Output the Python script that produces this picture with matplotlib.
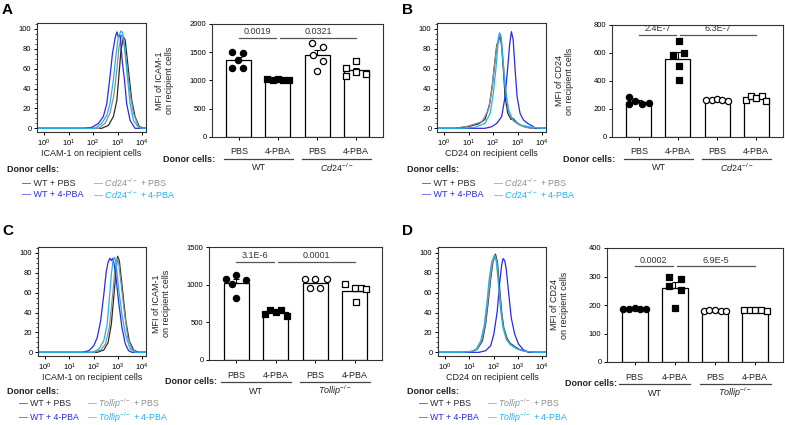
import numpy as np
import matplotlib
matplotlib.use("Agg")
import matplotlib.pyplot as plt
from matplotlib.ticker import MultipleLocator, LogLocator, NullFormatter

plt.rcParams['font.family'] = ['Liberation Sans', 'DejaVu Sans']
plt.rcParams['mathtext.fontset'] = 'custom'
plt.rcParams['mathtext.rm'] = 'Liberation Sans'
plt.rcParams['mathtext.it'] = 'Liberation Sans:italic'
plt.rcParams['mathtext.bf'] = 'Liberation Sans:bold'

# ---- histogram curves (x = log10 fluorescence, y = % of max) ----
# A: ICAM-1, Cd24 donors
a_wt_pbs_x = [-0.3, 2.35, 2.63, 2.83, 2.97, 3.06, 3.14, 3.24, 3.31, 3.44, 3.58, 3.71, 3.88, 4.05, 4.2]
a_wt_pbs_y = [0, 0, 3, 12, 28, 55, 79, 92, 89, 59, 28, 12, 2, 0, 0]
a_ko_pbs_x = [-0.3, 2.22, 2.49, 2.69, 2.86, 2.97, 3.06, 3.17, 3.24, 3.37, 3.51, 3.65, 3.85, 4.01, 4.2]
a_ko_pbs_y = [0, 0, 5, 15, 35, 59, 82, 94, 91, 65, 35, 15, 2, 0, 0]
a_wt_pba_x = [-0.3, 1.61, 1.95, 2.22, 2.42, 2.56, 2.69, 2.79, 2.90, 2.97, 3.03, 3.10, 3.20, 3.28, 3.37, 3.51, 3.71, 4.2]
a_wt_pba_y = [0, 0, 1, 5, 12, 25, 52, 75, 91, 97, 92, 94, 65, 49, 25, 8, 0, 0]
a_ko_pba_x = [-0.3, 2.08, 2.35, 2.56, 2.69, 2.83, 2.94, 3.03, 3.14, 3.21, 3.31, 3.41, 3.51, 3.65, 3.85, 3.99, 4.2]
a_ko_pba_y = [0, 0, 5, 13, 25, 49, 75, 92, 98, 96, 75, 49, 25, 8, 1, 0, 0]

# B: CD24, Cd24 donors
b_wt_pbs_x = [-0.3, 0.45, 0.99, 1.40, 1.67, 1.85, 1.97, 2.08, 2.15, 2.22, 2.29, 2.35, 2.42, 2.49, 2.60, 2.73, 2.83, 2.93, 3.10, 3.31, 3.58, 4.2]
b_wt_pbs_y = [0, 0, 1.7, 4.4, 9, 23.5, 43.6, 68.8, 83.9, 87.2, 94, 82.2, 58.7, 31.9, 15.1, 9, 9.7, 6.7, 3.4, 1.7, 0, 0]
b_ko_pbs_x = [-0.3, 0.45, 0.99, 1.54, 1.81, 1.95, 2.05, 2.15, 2.24, 2.33, 2.42, 2.52, 2.65, 2.83, 3.03, 3.31, 3.58, 4.2]
b_ko_pbs_y = [0, 0, 2.3, 6.7, 18.5, 38.6, 62.1, 82.2, 94, 90.6, 65.4, 35.2, 15.1, 7.7, 4, 1, 0, 0]
b_wt_pba_x = [-0.3, 1.67, 1.95, 2.15, 2.35, 2.49, 2.60, 2.68, 2.75, 2.82, 2.90, 2.98, 3.10, 3.24, 3.44, 3.61, 3.71, 4.2]
b_wt_pba_y = [0, 0, 1.7, 5, 11.7, 31.9, 62.1, 85.6, 97.3, 88.9, 58.7, 31.9, 15.1, 8.4, 4.4, 2.3, 0, 0]
b_ko_pba_x = [-0.3, 0.72, 1.27, 1.67, 1.88, 2.01, 2.11, 2.19, 2.26, 2.33, 2.39, 2.49, 2.63, 2.83, 3.17, 3.58, 3.99, 4.2]
b_ko_pba_y = [0, 0, 1, 5, 15.1, 35.2, 58.7, 82.2, 96.3, 92.3, 72.1, 41.9, 18.5, 7.4, 3, 1, 0, 0]

# C: ICAM-1, Tollip donors
c_wt_pbs_x = [-0.3, 2.15, 2.42, 2.60, 2.73, 2.84, 2.93, 2.99, 3.06, 3.20, 3.33, 3.47, 3.65, 3.85, 4.2]
c_wt_pbs_y = [0, 0, 2.3, 9.9, 28.1, 57.8, 84.2, 96.7, 92.4, 61.1, 31.4, 11.6, 2.3, 0, 0]
c_ko_pbs_x = [-0.3, 2.01, 2.29, 2.49, 2.65, 2.76, 2.87, 2.97, 3.03, 3.14, 3.28, 3.41, 3.58, 3.78, 4.2]
c_ko_pbs_y = [0, 0, 2.3, 8.3, 24.8, 51.2, 80.9, 94.7, 90.8, 67.7, 38, 14.9, 3.3, 0, 0]
c_wt_pba_x = [-0.3, 1.54, 1.81, 2.01, 2.15, 2.29, 2.42, 2.52, 2.60, 2.67, 2.73, 2.80, 2.90, 3.03, 3.17, 3.31, 3.44, 3.58, 4.2]
c_wt_pba_y = [0, 0, 1.7, 6.6, 14.9, 31.4, 57.8, 80.9, 90.8, 94.7, 92.4, 94.7, 80.9, 51.2, 24.8, 8.3, 1.7, 0, 0]
c_ko_pba_x = [-0.3, 1.95, 2.22, 2.42, 2.56, 2.65, 2.73, 2.80, 2.87, 2.94, 3.03, 3.17, 3.31, 3.51, 3.71, 4.2]
c_ko_pba_y = [0, 0, 3.3, 11.6, 28.1, 54.5, 77.6, 92.4, 95.7, 87.5, 64.4, 38, 18.2, 3.3, 0, 0]

# D: CD24, Tollip donors
d_wt_pbs_x = [-0.3, 0.72, 1.13, 1.33, 1.54, 1.67, 1.78, 1.88, 1.97, 2.08, 2.16, 2.24, 2.33, 2.42, 2.56, 2.69, 2.83, 3.03, 3.31, 3.71, 4.2]
d_wt_pbs_y = [0, 0, 1, 3.3, 11.5, 28, 51, 74, 90.5, 98.7, 90.5, 67.4, 41.1, 24.7, 13.8, 8.9, 6.6, 3.3, 1, 0, 0]
d_ko_pbs_x = [-0.3, 0.72, 1.10, 1.31, 1.51, 1.65, 1.76, 1.86, 1.95, 2.06, 2.14, 2.22, 2.31, 2.40, 2.54, 2.67, 2.81, 3.01, 3.29, 3.69, 4.2]
d_ko_pbs_y = [0, 0, 1, 3.3, 11.5, 28, 51, 74, 90.5, 97.5, 91, 68, 42, 25, 13.5, 8.5, 6, 3, 1, 0, 0]
d_wt_pba_x = [-0.3, 1.40, 1.67, 1.88, 2.01, 2.15, 2.24, 2.33, 2.39, 2.46, 2.52, 2.63, 2.73, 2.87, 3.03, 3.24, 3.44, 4.2]
d_wt_pba_y = [0, 0, 1.6, 6.6, 18.1, 41.1, 67.4, 87.2, 94.4, 92.1, 83.9, 57.6, 34.5, 18.1, 8.2, 2.3, 0, 0]
d_ko_pba_x = [-0.3, 0.72, 1.13, 1.29, 1.47, 1.62, 1.73, 1.82, 1.92, 2.03, 2.11, 2.19, 2.29, 2.39, 2.52, 2.69, 2.97, 3.31, 3.71, 4.2]
d_ko_pba_y = [0, 0, 1, 3.3, 11.5, 28, 51, 74, 90.5, 98, 92, 70.7, 42.8, 24.7, 13.2, 7.6, 3.3, 1, 0, 0]

# ---- MFI per mouse ----
a_mfi_wt_pbs = [1500, 1480, 1360, 1215, 1215]
a_mfi_wt_pba = [1030, 1015, 1020, 1005, 1010]
a_mfi_ko_pbs = [1655, 1600, 1450, 1350, 1165]
a_mfi_ko_pba = [1345, 1215, 1155, 1075, 1110]

b_mfi_wt_pbs = [287, 237, 254, 237, 246]
b_mfi_wt_pba = [689, 587, 603, 506, 408]
b_mfi_ko_pbs = [262, 266, 268, 266, 258]
b_mfi_ko_pba = [266, 290, 276, 290, 254]

c_mfi_wt_pbs = [1070, 1130, 1060, 820, 1010]
c_mfi_wt_pba = [610, 660, 640, 660, 590]
c_mfi_ko_pbs = [1070, 1080, 1070, 950, 950]
c_mfi_ko_pba = [1005, 950, 950, 940, 765]

d_mfi_wt_pbs = [187, 186, 188, 186, 185]
d_mfi_wt_pba = [300, 267, 292, 251, 188]
d_mfi_ko_pbs = [180, 181, 182, 180, 178]
d_mfi_ko_pba = [182, 183, 183, 182, 180]

treatments = ["PBS", "4-PBA", "PBS", "4-PBA"]
p_a = ["0.0019", "0.0321"]
p_b = ["2.4E-7", "6.3E-7"]
p_c = ["3.1E-6", "0.0001"]
p_d = ["0.0002", "6.9E-5"]

# styles / point spreads
spread_wide = [-0.28, -0.14, 0, 0.14, 0.28]
a_off = [[-0.17, 0.11, -0.02, -0.17, 0.11], spread_wide, [-0.13, 0.15, -0.11, 0.15, 0], [0, -0.26, 0, -0.26, 0.26]]
b_off = [[-0.25, -0.25, -0.09, 0.09, 0.26], [0.02, -0.13, 0.16, 0.02, 0.02], spread_wide, [-0.26, -0.13, 0, 0.15, 0.26]]
c_off = [[-0.26, 0, 0.25, 0, -0.1], spread_wide, [-0.26, 0, 0.31, -0.13, 0.12], [-0.24, 0, 0.17, 0.28, 0.03]]
d_off = [spread_wide, [-0.14, -0.14, 0.15, 0.15, 0], spread_wide, spread_wide]

hist_colors = ["#2b2b2b", "#8f8f8f", "#2a2ae0", "#22b2ea"]
text_dark = "#222222"

W, H = 785, 425
fig = plt.figure(figsize=(W / 100, H / 100), dpi=100)


def add_ax(l, t, r, b):
    return fig.add_axes([l / W, 1 - b / H, (r - l) / W, (b - t) / H])


def ftext(x, y, s, **kw):
    fig.text(x / W, 1 - y / H, s, **kw)


def draw_hist(box, curves, xlabel):
    ax = add_ax(*box)
    for (lx, ly), col in zip(curves, hist_colors):
        ax.plot(10 ** np.array(lx), ly, color=col, lw=0.9)
    ax.set_xscale("log")
    ax.set_xlim(10 ** -0.29, 10 ** 4.16)
    ax.set_ylim(-3.7, 106)
    ax.set_xticks([1, 10, 100, 1000, 10000])
    ax.set_xticklabels([r"$10^{%d}$" % k for k in range(5)], fontsize=6)
    ax.xaxis.set_minor_locator(LogLocator(base=10, subs=np.arange(2, 10)))
    ax.xaxis.set_minor_formatter(NullFormatter())
    ax.yaxis.set_major_locator(MultipleLocator(20))
    ax.yaxis.set_minor_locator(MultipleLocator(5))
    ax.tick_params(axis="both", which="major", length=2.5, width=0.7, labelsize=5.5, pad=1.5)
    ax.tick_params(axis="both", which="minor", length=1.3, width=0.5)
    for s in ax.spines.values():
        s.set_linewidth(0.8)
        s.set_color("#333333")
    ftext((box[0] + box[2]) / 2, box[3] + 22, xlabel, fontsize=6.5, ha="center", va="center", color=text_dark)
    return ax


def draw_legend(x0, y0, ko, col1, col2, fs, row1, row2):
    ftext(x0, y0, "Donor cells:", fontsize=6.5, fontweight="bold", va="center", color=text_dark)
    ko_m = r"$\mathit{%s}^{-/-}$" % ko
    ftext(x0 + col1, y0 + row1, "\u2014 WT + PBS", fontsize=fs, va="center", color=hist_colors[0])
    ftext(x0 + col2, y0 + row1, "\u2014 " + ko_m + " + PBS", fontsize=fs, va="center", color=hist_colors[1])
    ftext(x0 + col1, y0 + row2, "\u2014 WT + 4-PBA", fontsize=fs, va="center", color=hist_colors[2])
    ftext(x0 + col2, y0 + row2, "\u2014 " + ko_m + " + 4-PBA", fontsize=fs, va="center", color=hist_colors[3])


def draw_bars(box, groups, offsets, ymax, ystep, ylabel, ko, pvals, sig_frac, donor_x):
    ax = add_ax(*box)
    h_px = box[3] - box[1]
    markers = ["o", "s", "o", "s"]
    faces = ["black", "black", "white", "white"]
    for i, vals in enumerate(groups):
        vals = np.array(vals, dtype=float)
        m = vals.mean()
        sem = vals.std(ddof=1) / np.sqrt(len(vals))
        ax.bar(i, m, width=0.64, color="white", edgecolor="black", lw=0.9, zorder=1)
        ax.errorbar(i, m, yerr=[[0], [sem]], color="black", capsize=2.5, lw=0.8, capthick=0.8, zorder=2)
        ax.scatter(i + np.array(offsets[i]), vals, marker=markers[i], s=20, facecolor=faces[i],
                   edgecolor="black", lw=0.9, zorder=3, clip_on=False)
    ax.set_xlim(-0.69, 3.69)
    ax.set_ylim(0, ymax)
    ax.yaxis.set_major_locator(MultipleLocator(ystep))
    ax.set_xticks(range(4))
    ax.set_xticklabels([])
    ax.tick_params(axis="both", length=2.5, width=0.7, labelsize=5.5, pad=1.5)
    for s in ax.spines.values():
        s.set_linewidth(0.8)
        s.set_color("#333333")
    ax.set_ylabel(ylabel, fontsize=6.5, linespacing=1.15, color=text_dark)
    ax.yaxis.set_label_coords(-38 / (box[2] - box[0]), 0.5)
    # significance lines
    sy = sig_frac * ymax
    for (xa, xb), p in zip([(0, 0.95), (1.05, 3)], pvals):
        ax.plot([xa, xb], [sy, sy], color="#555555", lw=0.9, zorder=2)
        ax.annotate(p, ((xa + xb) / 2, sy), xytext=(0, 1.2), textcoords="offset points",
                    ha="center", va="bottom", fontsize=6.5, color="#333333")
    # labels below
    tr = ax.get_xaxis_transform()
    for i, t in enumerate(treatments):
        ax.text(i, -15 / h_px, t, transform=tr, ha="center", va="center", fontsize=6.5, color=text_dark)
    for (xa, xb), g in zip([(-0.38, 1.38), (1.62, 3.38)], ["WT", r"$\mathit{%s}^{-/-}$" % ko]):
        ax.plot([xa, xb], [-22 / h_px] * 2, transform=tr, color="#444444", lw=0.9, clip_on=False)
        ax.text((xa + xb) / 2, -31 / h_px, g, transform=tr, ha="center", va="center", fontsize=6.5, color=text_dark)
    ftext(donor_x, box[3] + 22, "Donor cells:", fontsize=6.5, fontweight="bold", va="center", color=text_dark)
    return ax


# ---- panel A ----
draw_hist((37, 23, 146, 132),
          [(a_wt_pbs_x, a_wt_pbs_y), (a_ko_pbs_x, a_ko_pbs_y), (a_wt_pba_x, a_wt_pba_y), (a_ko_pba_x, a_ko_pba_y)],
          "ICAM-1 on recipient cells")
draw_legend(7, 169, "Cd24", 15, 86, 6.5, 14, 26)
draw_bars((212, 24, 383, 137), [a_mfi_wt_pbs, a_mfi_wt_pba, a_mfi_ko_pbs, a_mfi_ko_pba], a_off,
          2000, 500, "MFI of ICAM-1\non recipient cells", "Cd24", p_a, 0.878, 163)

# ---- panel B ----
draw_hist((437, 23, 546, 132),
          [(b_wt_pbs_x, b_wt_pbs_y), (b_ko_pbs_x, b_ko_pbs_y), (b_wt_pba_x, b_wt_pba_y), (b_ko_pba_x, b_ko_pba_y)],
          "CD24 on recipient cells")
draw_legend(407, 169, "Cd24", 15, 86, 6.5, 14, 26)
draw_bars((612, 25, 783, 137), [b_mfi_wt_pbs, b_mfi_wt_pba, b_mfi_ko_pbs, b_mfi_ko_pba], b_off,
          800, 200, "MFI of CD24\non recipient cells", "Cd24", p_b, 0.911, 563)

# ---- panel C ----
draw_hist((38, 247, 146, 356),
          [(c_wt_pbs_x, c_wt_pbs_y), (c_ko_pbs_x, c_ko_pbs_y), (c_wt_pba_x, c_wt_pba_y), (c_ko_pba_x, c_ko_pba_y)],
          "ICAM-1 on recipient cells")
draw_legend(7, 391, "Tollip", 12, 80, 6.3, 13, 27)
draw_bars((209, 247, 382, 360), [c_mfi_wt_pbs, c_mfi_wt_pba, c_mfi_ko_pbs, c_mfi_ko_pba], c_off,
          1500, 500, "MFI of ICAM-1\non recipient cells", "Tollip", p_c, 0.867, 165)

# ---- panel D ----
draw_hist((438, 247, 546, 356),
          [(d_wt_pbs_x, d_wt_pbs_y), (d_ko_pbs_x, d_ko_pbs_y), (d_wt_pba_x, d_wt_pba_y), (d_ko_pba_x, d_ko_pba_y)],
          "CD24 on recipient cells")
draw_legend(407, 391, "Tollip", 12, 80, 6.3, 13, 27)
draw_bars((607, 248, 783, 362), [d_mfi_wt_pbs, d_mfi_wt_pba, d_mfi_ko_pbs, d_mfi_ko_pba], d_off,
          400, 100, "MFI of CD24\non recipient cells", "Tollip", p_d, 0.838, 565)

for x, y, letter in [(2, 10, "A"), (402, 10, "B"), (2, 231, "C"), (402, 231, "D")]:
    ftext(x, y, letter, fontsize=11, fontweight="bold", va="center", color="black")

fig.savefig("out.png", dpi=100)
